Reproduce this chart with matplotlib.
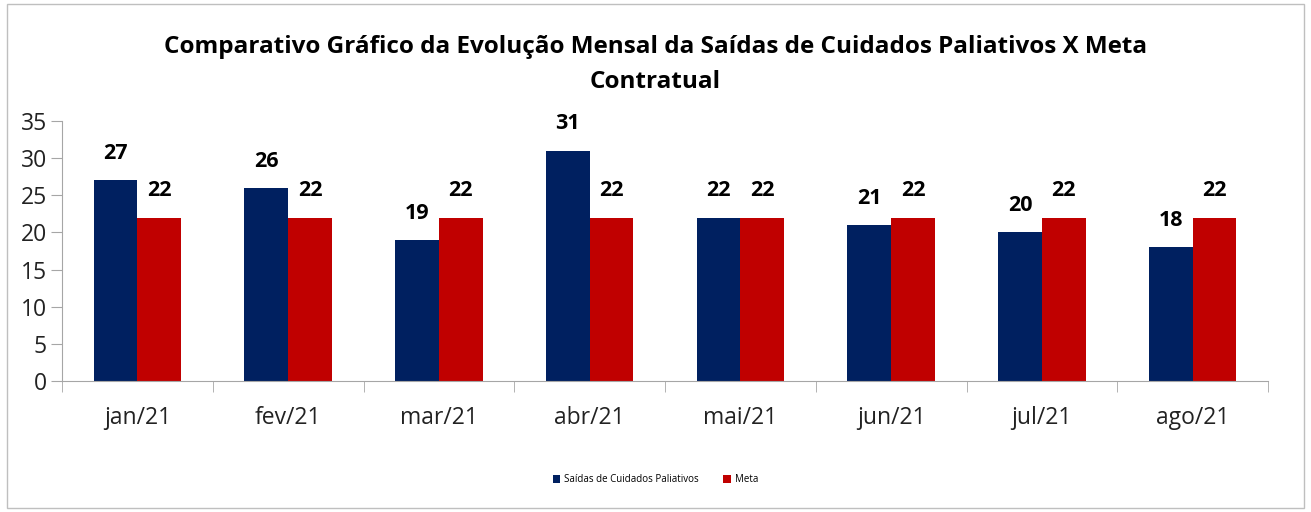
import numpy as np
import matplotlib.pyplot as plt
from matplotlib.patches import Rectangle

meses = ['jan/21', 'fev/21', 'mar/21', 'abr/21', 'mai/21', 'jun/21', 'jul/21', 'ago/21']
saidas = [27, 26, 19, 31, 22, 21, 20, 18]
meta = [22, 22, 22, 22, 22, 22, 22, 22]

azul = '#002060'
vermelho = '#C00000'
cinza = '#A6A6A6'

plt.rcParams['font.family'] = ['Open Sans', 'DejaVu Sans']

fig = plt.figure(figsize=(13.11, 5.12), dpi=100)
fig.patches.append(Rectangle((0.005, 0.008), 0.99, 0.984, transform=fig.transFigure,
                             fill=False, edgecolor='#BFBFBF', linewidth=1))

ax = fig.add_axes([62 / 1311, 1 - 381 / 512, (1268 - 62) / 1311, (381 - 121) / 512])

x = np.arange(len(meses))
w = 0.29
b1 = ax.bar(x - w / 2, saidas, w, color=azul, label='Saídas de Cuidados Paliativos')
b2 = ax.bar(x + w / 2, meta, w, color=vermelho, label='Meta')

for rects in (b1, b2):
    for r in rects:
        ax.text(r.get_x() + r.get_width() / 2, r.get_height() + 2.2, str(int(r.get_height())),
                ha='center', va='bottom', fontsize=15.5, fontweight='bold', color='black')

ax.set_xlim(-0.5, len(meses) - 0.5)
ax.set_ylim(0, 35)
ax.set_yticks(range(0, 36, 5))
ax.set_xticks(x)
ax.set_xticklabels(meses)
ax.set_xticks(np.arange(-0.5, len(meses), 1), minor=True)
ax.tick_params(axis='x', which='major', length=0, labelsize=16.5, pad=18, colors='#222222')
ax.tick_params(axis='x', which='minor', length=8, color=cinza, direction='out')
ax.tick_params(axis='y', length=8, color=cinza, labelsize=16.5, colors='#222222', pad=3)
ax.tick_params(axis='y', color=cinza)

for s in ['top', 'right']:
    ax.spines[s].set_visible(False)
for s in ['left', 'bottom']:
    ax.spines[s].set_color(cinza)

fig.text(0.5, 1 - 47 / 512, 'Comparativo Gráfico da Evolução Mensal da Saídas de Cuidados Paliativos X Meta',
         ha='center', va='center', fontsize=17.5, fontweight='bold')
fig.text(0.5, 1 - 82 / 512, 'Contratual', ha='center', va='center', fontsize=17.5, fontweight='bold')

fig.legend(loc='center', bbox_to_anchor=(0.5, 1 - 480 / 512), ncol=2, frameon=False,
           fontsize=7, handlelength=0.8, handleheight=0.8, columnspacing=2.5, handletextpad=0.4)

fig.savefig('out.png', dpi=100)
